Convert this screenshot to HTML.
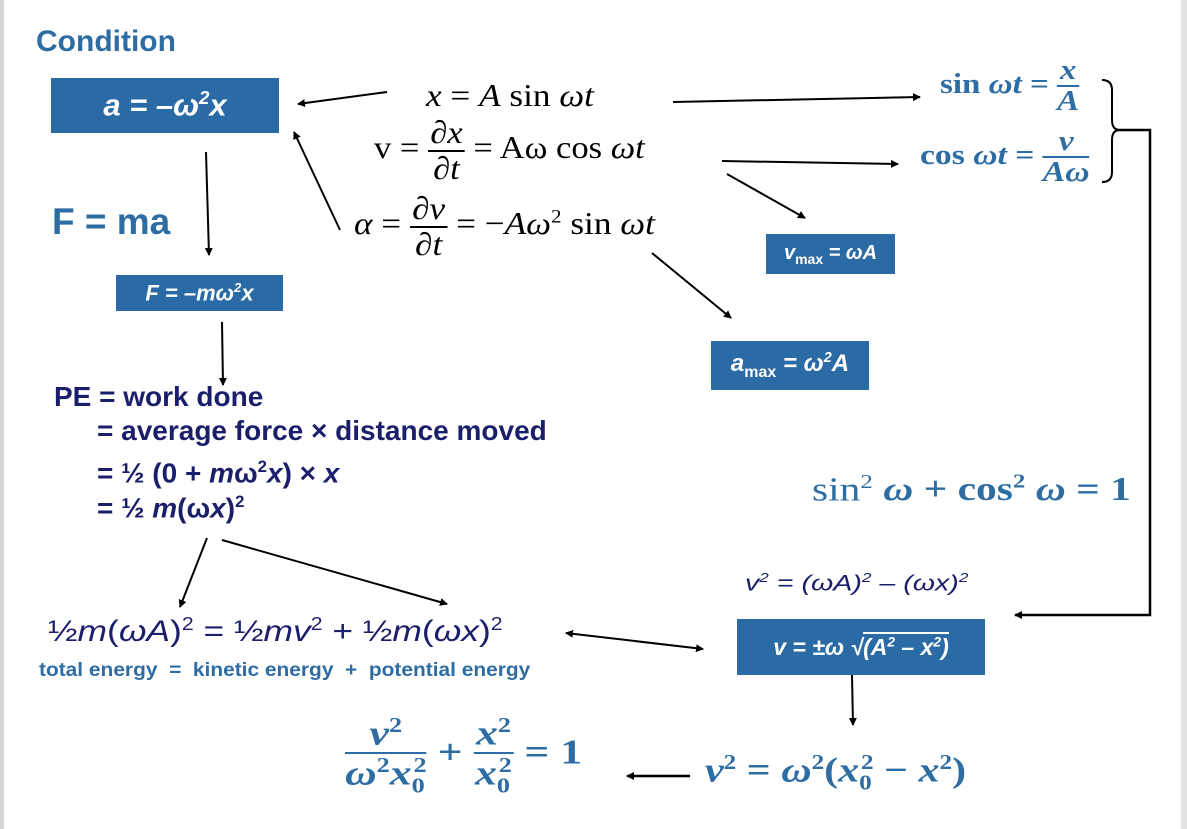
<!DOCTYPE html>
<html><head><meta charset="utf-8"><style>
body{margin:0;width:1187px;height:829px;background:#fff;position:relative;overflow:hidden;font-family:"Liberation Sans",sans-serif}
.a{position:absolute;white-space:nowrap;line-height:1;transform-origin:0 50%}
.box{position:absolute;background:#2a6ba6;color:#fff;font-weight:bold;font-style:italic;display:flex;align-items:center;justify-content:center;white-space:nowrap}
.serif{font-family:"Liberation Serif",serif}
.blue{color:#2e6da4}
.navy{color:#1b1f6b}
.fr{display:inline-block;vertical-align:middle;text-align:center}
.fr span{display:block;line-height:1.05}
.fr .n{border-bottom:2px solid currentColor;padding:0 2px}
sup{font-size:60%}
</style></head><body>
<div style="position:absolute;left:0;top:0;width:4px;height:829px;background:#d4d4d4"></div>
<div style="position:absolute;left:1181px;top:0;width:6px;height:829px;background:#e2e2e2"></div>

<div class="a blue" style="left:36px;top:27px;font-size:30px;font-weight:bold">Condition</div>
<div class="box" style="left:51px;top:78px;width:228px;height:55px;font-size:31px"><span>a = –ω<sup>2</sup>x</span></div>
<div class="a blue" style="left:52px;top:203px;font-size:37px;font-weight:bold">F = ma</div>
<div class="box" style="left:116px;top:275px;width:167px;height:36px;font-size:22px"><span>F = –mω<sup>2</sup>x</span></div>

<div class="a navy" style="left:54px;top:383px;font-size:28px;font-weight:bold">PE = work done</div>
<div class="a navy" style="left:97px;top:417px;font-size:28px;font-weight:bold">= average force × distance moved</div>
<div class="a navy" style="left:97px;top:459px;font-size:28px;font-weight:bold">= ½ (0 + <i>m</i>ω<sup>2</sup><i>x</i>) × <i>x</i></div>
<div class="a navy" style="left:97px;top:494px;font-size:28px;font-weight:bold">= ½ <i>m</i>(ω<i>x</i>)<sup>2</sup></div>

<div class="a serif" style="left:426px;top:79px;font-size:32px;transform:scaleX(1.1)"><i>x</i> = <i>A</i> sin <i>ωt</i></div>
<div class="a serif" style="left:374px;top:116px;font-size:32px;transform:scaleX(1.08)">v = <span class="fr"><span class="n"><i>∂x</i></span><span><i>∂t</i></span></span> = Aω cos <i>ωt</i></div>
<div class="a serif" style="left:354px;top:192px;font-size:32px;transform:scaleX(1.1)"><i>α</i> = <span class="fr"><span class="n"><i>∂v</i></span><span><i>∂t</i></span></span> = −<i>Aω</i><sup>2</sup> sin <i>ωt</i></div>

<div class="a serif blue" style="left:940px;top:56px;font-size:28px;font-weight:bold;transform:scaleX(1.18)">sin <i>ωt</i> = <span class="fr"><span class="n"><i>x</i></span><span><i>A</i></span></span></div>
<div class="a serif blue" style="left:920px;top:127px;font-size:28px;font-weight:bold;transform:scaleX(1.2)">cos <i>ωt</i> = <span class="fr"><span class="n"><i>v</i></span><span><i>Aω</i></span></span></div>

<div class="box" style="left:766px;top:234px;width:129px;height:40px;font-size:20px"><span>v<sub style="font-size:14px;font-style:normal">max</sub> = ωA</span></div>
<div class="box" style="left:711px;top:341px;width:158px;height:49px;font-size:24px"><span>a<sub style="font-size:16px;font-style:normal">max</sub> = ω<sup>2</sup>A</span></div>

<div class="a serif blue" style="left:812px;top:472px;font-size:34px;transform:scaleX(1.22)">sin<sup>2</sup> <b><i>ω</i> + cos<sup>2</sup> <i>ω</i> = 1</b></div>

<div class="a navy" style="left:745px;top:571px;font-size:22px;font-style:italic;transform:scaleX(1.3)">v<sup>2</sup> = (ωA)<sup>2</sup> – (ωx)<sup>2</sup></div>
<div class="box" style="left:737px;top:619px;width:248px;height:56px;font-size:23px"><span>v = ±ω √<span style="border-top:2px solid #fff">(A<sup>2</sup> – x<sup>2</sup>)</span></span></div>

<div class="a navy" style="left:48px;top:615px;font-size:30px;transform:scaleX(1.18)">½<i>m</i>(<i>ωA</i>)<sup>2</sup> = ½<i>mv</i><sup>2</sup> + ½<i>m</i>(<i>ωx</i>)<sup>2</sup></div>
<div class="a blue" style="left:39px;top:661px;font-size:19px;font-weight:bold;transform:scaleX(1.1)">total energy &nbsp;= &nbsp;kinetic energy &nbsp;+ &nbsp;potential energy</div>

<div class="a serif blue" style="left:345px;top:714px;font-size:35px;font-weight:bold;transform:scaleX(1.25)"><span class="fr"><span class="n"><i>v</i><sup>2</sup></span><span><i>ω</i><sup>2</sup><i>x</i><sub style="font-size:60%">0</sub><sup style="margin-left:-9px">2</sup></span></span> + <span class="fr"><span class="n"><i>x</i><sup>2</sup></span><span><i>x</i><sub style="font-size:60%">0</sub><sup style="margin-left:-9px">2</sup></span></span> = 1</div>
<div class="a serif blue" style="left:705px;top:752px;font-size:35px;font-weight:bold;transform:scaleX(1.2)"><i>v</i><sup>2</sup> = <i>ω</i><sup>2</sup>(<i>x</i><sub style="font-size:60%">0</sub><sup style="margin-left:-9px">2</sup> − <i>x</i><sup>2</sup>)</div>

<svg style="position:absolute;left:0;top:0" width="1187" height="829">
<defs><marker id="h" markerWidth="8" markerHeight="8" refX="7" refY="4" orient="auto" markerUnits="userSpaceOnUse"><path d="M0,0L8,4L0,8z" fill="#000"/></marker>
<marker id="t" markerWidth="8" markerHeight="8" refX="1" refY="4" orient="auto" markerUnits="userSpaceOnUse"><path d="M8,0L0,4L8,8z" fill="#000"/></marker></defs>
<g stroke="#000" stroke-width="2" fill="none" marker-end="url(#h)">
<line x1="387" y1="92" x2="298" y2="104"/>
<line x1="673" y1="102" x2="920" y2="97"/>
<line x1="340" y1="230" x2="294" y2="132"/>
<line x1="206" y1="152" x2="209" y2="255"/>
<line x1="722" y1="161" x2="898" y2="164"/>
<line x1="727" y1="174" x2="805" y2="218"/>
<line x1="652" y1="253" x2="731" y2="318"/>
<line x1="222" y1="322" x2="223" y2="385"/>
<line x1="207" y1="538" x2="180" y2="607"/>
<line x1="222" y1="540" x2="447" y2="604"/>
<line x1="566" y1="633" x2="703" y2="649" marker-start="url(#t)"/>
<line x1="852" y1="675" x2="853" y2="725"/>
<line x1="690" y1="776" x2="627" y2="776" stroke-width="2.5"/>
<polyline points="1117,130 1150,130 1150,615 1015,615" stroke-width="2.5"/>
</g>
<path d="M1102,80 Q1112,80 1112,90 L1112,120 Q1112,130 1120,130 Q1112,130 1112,140 L1112,172 Q1112,182 1102,182" stroke="#000" stroke-width="2" fill="none"/>
</svg>
</body></html>
